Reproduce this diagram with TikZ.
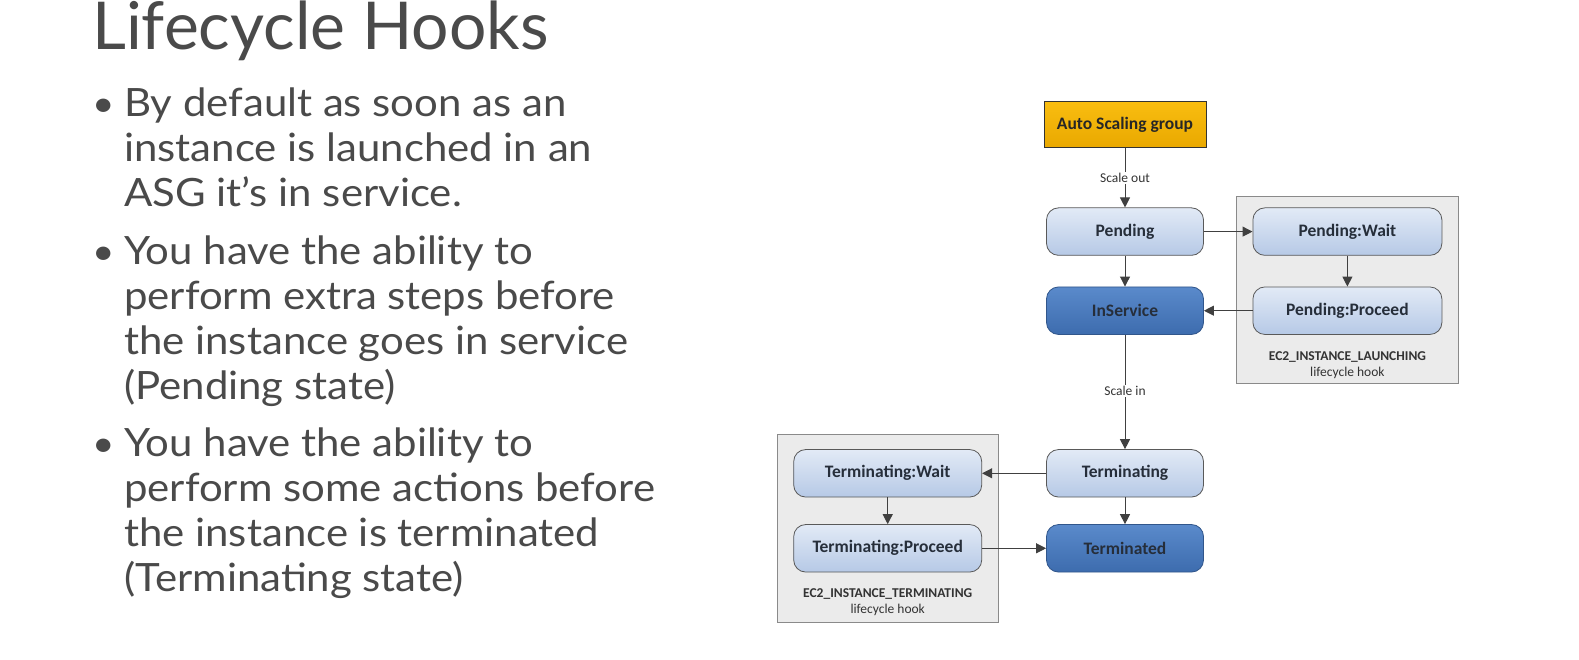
\documentclass[tikz,border=0pt]{standalone}
\usepackage{fontspec}
\setmainfont{Lato}
\newfontfamily\slidefont[FakeStretch=1.075]{Lato}
\newfontfamily\diafont{Carlito}
\usetikzlibrary{arrows.meta}

\definecolor{slidetext}{HTML}{4A4A4A}
\definecolor{asgtop}{HTML}{F9BD10}
\definecolor{asgbot}{HTML}{E9A800}
\definecolor{lighttop}{HTML}{E2EAF6}
\definecolor{lightbot}{HTML}{B6C9E6}
\definecolor{darktop}{HTML}{5A8ACB}
\definecolor{darkbot}{HTML}{3D6CAE}
\definecolor{statetext}{HTML}{262E3A}
\definecolor{arrowgray}{HTML}{404040}
\definecolor{hookfill}{HTML}{EBEBEB}
\definecolor{hookline}{HTML}{8A8A8A}

\tikzset{
  x=1pt, y=-1pt,
  slideline/.style={anchor=base west, inner sep=0pt, text=slidetext,
    font=\slidefont\fontsize{39}{45}\selectfont},
  slidebullet/.style={anchor=base west, inner sep=0pt, text=slidetext,
    font=\slidefont\fontsize{36}{45}\selectfont},
  statebox/.style={rounded corners=12pt, draw=gray!70!black, line width=0.8pt,
    minimum width=157pt, minimum height=47.5pt, inner sep=0pt,
    font=\diafont\bfseries\fontsize{17.5}{20}\selectfont, text=statetext},
  lightstate/.style={statebox, top color=lighttop, bottom color=lightbot},
  darkstate/.style={statebox, top color=darktop, bottom color=darkbot,
    draw=darkbot!80!black},
  asgbox/.style={draw=black!80, line width=0.9pt, top color=asgtop, bottom color=asgbot,
    minimum width=162pt, minimum height=46pt, inner sep=0pt,
    font=\diafont\bfseries\fontsize{17.5}{20}\selectfont, text=black!85},
  hookbox/.style={draw=hookline, fill=hookfill, line width=0.9pt, inner sep=0pt},
  hooklabel/.style={align=center, inner sep=0pt, text=black!80,
    font=\diafont\fontsize{13.5}{16}\selectfont},
  edgelabel/.style={fill=white, inner sep=1.5pt, text=black!80,
    font=\diafont\fontsize{13.5}{16}\selectfont},
  flow/.style={draw=arrowgray, line width=1pt,
    -{Triangle[length=10pt,width=10pt]}, fill=none},
}

\begin{document}
\begin{tikzpicture}
\useasboundingbox[fill=white] (0,0) rectangle (1579,660);

% slide title
\node[anchor=base west, inner sep=0pt, text=slidetext,
      font=\fontsize{66}{70}\selectfont] (title) at (92,50) {Lifecycle Hooks};

% bullet list
\node[slidebullet] (b1) at (92,116.7) {•};
\node[slideline] (t11) at (124,116.7) {By default as soon as an};
\node[slideline] (t12) at (124,161.7) {instance is launched in an};
\node[slideline] (t13) at (124,206.7) {ASG it’s in service.};

\node[slidebullet] (b2) at (92,264.2) {•};
\node[slideline] (t21) at (124,264.2) {You have the ability to};
\node[slideline] (t22) at (124,309.2) {perform extra steps before};
\node[slideline] (t23) at (124,354.2) {the instance goes in service};
\node[slideline] (t24) at (124,399.2) {(Pending state)};

\node[slidebullet] (b3) at (92,456.7) {•};
\node[slideline] (t31) at (124,456.7) {You have the ability to};
\node[slideline] (t32) at (124,501.7) {perform some actions before};
\node[slideline] (t33) at (124,546.7) {the instance is terminated};
\node[slideline] (t34) at (124,591.7) {(Terminating state)};

% lifecycle hook groups
\node[hookbox, minimum width=221.6pt, minimum height=187.3pt] (launchgrp) at (1347.4,290) {};
\node[hookbox, minimum width=220.6pt, minimum height=188.3pt] (termgrp) at (887.7,528.2) {};
\node[hooklabel] (launchhook) at (1347.4,365.5)
  {\bfseries EC2\_INSTANCE\_LAUNCHING\\lifecycle hook};
\node[hooklabel] (termhook) at (887.7,602.5)
  {\bfseries EC2\_INSTANCE\_TERMINATING\\lifecycle hook};

% states
\node[asgbox] (asg) at (1125,124.9) {Auto Scaling group};
\node[lightstate] (pending) at (1125,231.6) {Pending};
\node[darkstate] (inservice) at (1125,310.7) {InService};
\node[lightstate, minimum width=189pt] (pwait) at (1347.4,231.6) {Pending:Wait};
\node[lightstate, minimum width=189pt] (pproceed) at (1347.4,310.7) {Pending:Proceed};
\node[lightstate] (terminating) at (1125,473.3) {Terminating};
\node[darkstate] (terminated) at (1125,548.3) {Terminated};
\node[lightstate, minimum width=188pt] (twait) at (887.7,473.3) {Terminating:Wait};
\node[lightstate, minimum width=188pt] (tproceed) at (887.7,548.3) {Terminating:Proceed};

% transitions
\draw[flow] (asg) -- node[edgelabel] {Scale out} (pending);
\draw[flow] (pending) -- (pwait);
\draw[flow] (pwait) -- (pproceed);
\draw[flow] (pproceed) -- (inservice);
\draw[flow] (pending) -- (inservice);
\draw[flow] (inservice) -- node[edgelabel, pos=0.49] {Scale in} (terminating);
\draw[flow] (terminating) -- (twait);
\draw[flow] (terminating) -- (terminated);
\draw[flow] (twait) -- (tproceed);
\draw[flow] (tproceed) -- (terminated);
\end{tikzpicture}
\end{document}
